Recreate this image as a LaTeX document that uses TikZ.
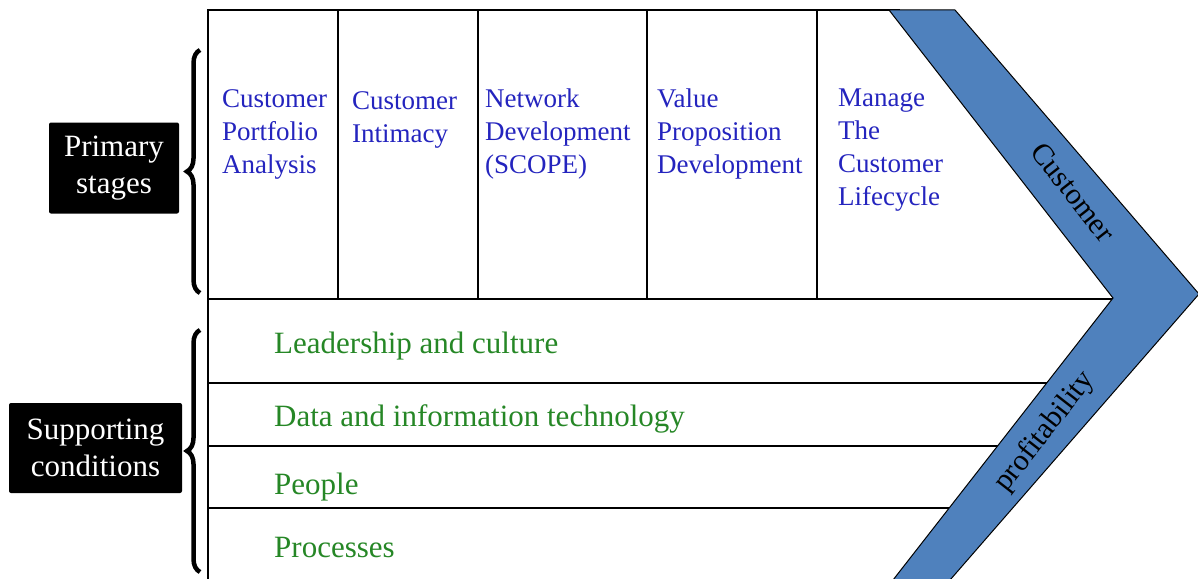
\documentclass[tikz,border=0pt]{standalone}
\usepackage{fontspec}
\setmainfont{Liberation Serif}
\usetikzlibrary{decorations.pathreplacing}
\definecolor{stageblue}{RGB}{36,36,190}
\definecolor{condgreen}{RGB}{38,135,38}
\definecolor{bandblue}{RGB}{79,129,189}

\begin{document}
\begin{tikzpicture}[x=1pt,y=-1pt,
  stage/.style={anchor=north west,inner sep=0pt,align=left,text=stageblue,font=\fontsize{27}{33}\selectfont},
  cond/.style={anchor=base west,inner sep=0pt,text=condgreen,font=\fontsize{31}{37}\selectfont},
  tag/.style={fill=black,text=white,rounded corners=2pt,align=center,font=\fontsize{31}{37}\selectfont},
  band/.style={text=black,font=\fontsize{30}{36}\selectfont},
  grid/.style={line width=2pt},
  curly/.style={decorate,decoration={brace,amplitude=13pt},line width=4.5pt}]
  \useasboundingbox (0,0) rectangle (1198,578);
  \clip (0,0) rectangle (1198,578);

  % frame and rows
  \draw[grid] (900,10) -- (208,10) -- (208,580);
  \foreach \x in {338,478,647,817}
    \draw[grid] (\x,10) -- (\x,299);
  \draw[grid] (208,299) -- (1113,299);
  \foreach \y/\e in {383/1050,446/1001,508/953}
    \draw[grid] (208,\y) -- (\e,\y);

  % chevron
  \filldraw[fill=bandblue,draw=black,line width=1pt]
    (889,10) -- (955,10) -- (1199,294) -- (950,580) -- (893,580) -- (1113,298) -- cycle;

  % primary stages
  \node[stage] (portfolio) at (222,89) {Customer\\Portfolio\\Analysis};
  \node[stage] (intimacy) at (352,91) {Customer\\Intimacy};
  \node[stage] (network) at (485,89) {Network\\Development\\(SCOPE)};
  \node[stage] (value) at (657,89) {Value\\Proposition\\Development};
  \node[stage] (lifecycle) at (838,89) {Manage\\The\\Customer\\Lifecycle};

  % supporting conditions
  \node[cond] (leadership) at (274,353) {Leadership and culture};
  \node[cond] (data) at (274,426) {Data and information technology};
  \node[cond] (people) at (274,494) {People};
  \node[cond] (processes) at (274,557) {Processes};

  % band text
  \node[band,rotate=-52] (customer) at (1073,192) {Customer};
  \node[band,rotate=52] (profit) at (1045,432) {profitability};

  % left labels
  \node[tag,minimum width=130pt,minimum height=91pt] (primary) at (114,168) {Primary\\stages};
  \node[tag,minimum width=173pt,minimum height=90pt] (support) at (95.5,448) {Supporting\\conditions};

  \coordinate (pb1) at (200,293);
  \coordinate (pb2) at (200,50);
  \coordinate (sb1) at (200,572);
  \coordinate (sb2) at (200,330);
  \draw[curly] (pb1) -- (pb2);
  \draw[curly] (sb1) -- (sb2);
\end{tikzpicture}
\end{document}
